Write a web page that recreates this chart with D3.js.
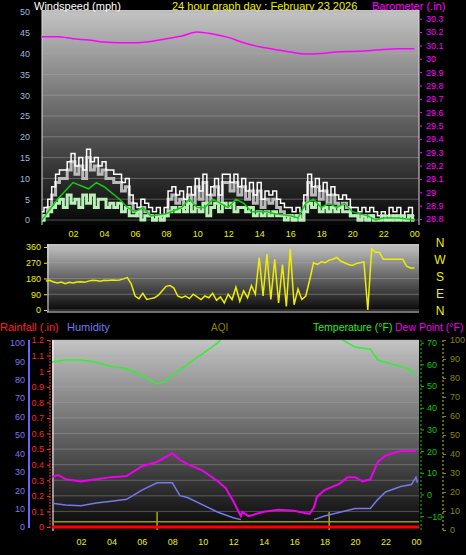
<!DOCTYPE html><html><head><meta charset="utf-8">
<script src="https://cdn.jsdelivr.net/npm/d3@7"></script>
<style>body{margin:0;background:#000}svg{display:block;font-family:"Liberation Sans",Arial,sans-serif}</style></head><body>
<script>
const hourTicks=[2,4,6,8,10,12,14,16,18,20,22,24];
const hourLabels=["02","04","06","08","10","12","14","16","18","20","22","00"];
const baroHours=[0,1,2,3,4,5,6,7,8,9,10,11,12,13,14,15,16,17,18,19,20,21,22,23,24];
const baro=[30.165,30.165,30.15,30.14,30.125,30.12,30.12,30.13,30.15,30.17,30.2,30.185,30.16,30.12,30.09,30.07,30.05,30.035,30.04,30.05,30.055,30.06,30.07,30.075,30.075];
const gust=[2,3,5,8,11,12,12,14,16,13,15,12,17,14,15,13,14,12,12,11,11,9,10,6,4,3,5,4,3,2,3,1,3,7,8,6,7,5,8,6,10,7,11,6,8,10,6,11,11,9,11,8,10,7,9,6,9,5,7,6,7,5,4,3,3,2,3,2,6,11,8,10,7,9,6,8,6,5,6,5,3,3,2,3,2,3,2,1,2,1,3,2,3,1,2,3,1];
const speed=[0,1,2,3,4,5,3,6,4,5,3,6,4,6,3,5,5,3,4,3,4,2,3,1,1,2,0,1,1,0,1,0,1,2,3,2,3,2,4,2,3,2,4,1,3,4,2,4,3,4,2,3,3,2,3,1,2,1,2,1,2,1,1,0,1,0,1,0,2,4,3,4,2,3,2,3,2,3,2,2,1,1,0,1,0,1,0,0,1,0,0,1,0,1,0,1,0];
const avgHours=[0,1,2,3,3.5,4,5,5.5,6,6.5,7,8,9,9.5,10,10.5,11,12,12.5,13,13.5,14,14.5,15,16,16.5,17,17.5,18,18.5,19,19.5,20,21,21.5,22,23,24];
const avgWind=[0,5,9,7.5,9,8,5,3,2,3,1,1.5,3,5,3,3,5,3,5,4,2,2,2,1.5,1,0.5,4,5,3,4,3,4,2,1,0,0.5,0.5,0];
const windDir=[140,165,170,160,155,160,150,158,155,160,162,158,165,170,168,165,170,168,172,170,172,178,185,150,80,65,95,60,65,70,85,110,135,140,125,80,70,80,65,90,75,60,80,70,95,55,75,40,90,60,130,50,110,70,140,90,300,80,320,60,290,40,260,20,350,30,120,60,80,170,270,260,275,270,285,290,300,280,270,260,255,265,270,275,0,350,330,330,290,290,290,290,290,290,250,240,240];
const tempHours=[0,1,2,3,4,5,6,7,7.5,8,9,10,11,11.5,19,20,21,21.5,22,23,23.5,24];
const temp=[61,62,62,61,59,58,55,51,52,55,60,65,70,74,72,68,67,62,61,59,58,55];
const dewHours=[0,0.5,1,2,3,4,5,6,7,8,8.5,9,10,11,11.5,12,12.5,12.6,13,14,15,16,17,17.3,17.5,18,19,19.5,20,20.5,21,21.5,22,23,24];
const dew=[8,9,7,6,7,8,8.5,13,15,19,16,14,11,6,3,-3,-10,-8,-10,-8,-7,-7.5,-9,-6,-1,2,5,8,8,6,7,15,18,20,20];
const humHours=[0,1,2,3,4,5,6,7,8,8.5,9,10,11,12,12.5];
const hum=[13,12,11.5,13,14,15,20,24,24,17,16,12,8,5,4];
const humHours2=[17.3,18,19,20,21,21.5,22,23,23.7,24,24.1];
const hum2=[4,6,8,10,10,15,19,22,23,27,24];
const aqiSpikes=[7,18.3];

const W=466,H=555;
const svg=d3.select("body").append("svg").attr("width",W).attr("height",H).style("background","#000");
const defs=svg.append("defs");
const g=defs.append("linearGradient").attr("id","bg").attr("x1",0).attr("y1",0).attr("x2",0).attr("y2",1);
g.append("stop").attr("offset",0).attr("stop-color","#c4c4c4");
g.append("stop").attr("offset",0.55).attr("stop-color","#5a5a5a");
g.append("stop").attr("offset",1).attr("stop-color","#050505");
const txt=(x,y,s,c,size,anchor)=>svg.append("text").attr("x",x).attr("y",y).text(s).attr("fill",c).attr("font-size",size||11).attr("text-anchor",anchor||"start");

// ---------- Panel 1
const x1=d3.scaleLinear().domain([0,24.3]).range([42,419]);
const yW=d3.scaleLinear().domain([0,50]).range([220,12]);
const yB=d3.scaleLinear().domain([28.8,30.3]).range([219,18.7]);
svg.append("rect").attr("x",42).attr("y",10).attr("width",377).attr("height",215).attr("fill","url(#bg)");
d3.range(0,51,5).forEach(v=>svg.append("line").attr("x1",42).attr("x2",419).attr("y1",yW(v)).attr("y2",yW(v)).attr("stroke","#aaa").attr("stroke-opacity",0.45));
svg.append("line").attr("x1",42).attr("x2",42).attr("y1",10).attr("y2",225).attr("stroke","#ddd");
svg.append("line").attr("x1",419).attr("x2",419).attr("y1",10).attr("y2",225).attr("stroke","#ddd");
svg.append("g").attr("transform","translate(42,0)").call(d3.axisLeft(yW).tickValues(d3.range(0,51,5)).tickSize(0).tickPadding(12)).call(a=>{a.select(".domain").remove();a.selectAll("text").attr("fill","#9bd").attr("font-size",9);});
svg.append("g").attr("transform","translate(419,0)").call(d3.axisRight(yB).tickValues(d3.range(28.8,30.31,0.1)).tickFormat(d=>+d.toFixed(1)).tickSize(3).tickPadding(4)).call(a=>{a.select(".domain").remove();a.selectAll("line").attr("stroke","#f0f");a.selectAll("text").attr("fill","#f0f").attr("font-size",9);});
svg.append("g").attr("transform","translate(0,225)").call(d3.axisBottom(x1).tickValues(hourTicks).tickFormat((d,i)=>hourLabels[i]).tickSize(0).tickPadding(6)).call(a=>{a.select(".domain").remove();a.selectAll("text").attr("fill","#ee0").attr("font-size",9);});
const p1=svg.append("g");
p1.append("path").datum(gust).attr("d",d3.line().x((d,i)=>x1(i*0.25)).y(d=>yW(Math.max(0,d-2))).curve(d3.curveStep)).attr("fill","none").attr("stroke","#bbb").attr("stroke-width",3);
p1.append("path").datum(gust).attr("d",d3.line().x((d,i)=>x1(i*0.25)).y(d=>yW(d)).curve(d3.curveStep)).attr("fill","none").attr("stroke","#fff").attr("stroke-width",1.5);
p1.append("path").datum(speed).attr("d",d3.line().x((d,i)=>x1(i*0.25)).y(d=>yW(d)).curve(d3.curveStep)).attr("fill","none").attr("stroke","#b8f0b8").attr("stroke-width",3);
p1.append("path").datum(avgWind).attr("d",d3.line().x((d,i)=>x1(avgHours[i])).y(d=>yW(d))).attr("fill","none").attr("stroke","#1c1").attr("stroke-width",1.5);
p1.append("path").datum(baro).attr("d",d3.line().x((d,i)=>x1(baroHours[i])).y(d=>yB(d)).curve(d3.curveMonotoneX)).attr("fill","none").attr("stroke","#f0f").attr("stroke-width",1.5);
txt(34,10,"Windspeed (mph)","#fff",11);
txt(172,10,"24 hour graph day : February 23 2026","#ee0",11);
txt(372,10,"Barometer (.in)","#f0f",11);

// ---------- Panel 2
const yD=d3.scaleLinear().domain([0,360]).range([310,247]);
svg.append("rect").attr("x",47).attr("y",244).attr("width",372).attr("height",68).attr("fill","url(#bg)");
d3.range(0,361,90).forEach(v=>svg.append("line").attr("x1",47).attr("x2",419).attr("y1",yD(v)).attr("y2",yD(v)).attr("stroke","#aaa").attr("stroke-opacity",0.45));
svg.append("line").attr("x1",48).attr("x2",48).attr("y1",244).attr("y2",312).attr("stroke","#ddd");
svg.append("line").attr("x1",47).attr("x2",419).attr("y1",312).attr("y2",312).attr("stroke","#ddd");
svg.append("g").attr("transform","translate(47,0)").call(d3.axisLeft(yD).tickValues([0,90,180,270,360]).tickSize(3)).call(a=>{a.select(".domain").remove();a.selectAll("line").attr("stroke","#ee0");a.selectAll("text").attr("fill","#ee0").attr("font-size",9);});
const p2=svg.append("g");
p2.append("path").datum(windDir.slice(1)).attr("d",d3.line().x((d,i)=>x1((i+1)*0.25)).y(d=>yD(d))).attr("fill","none").attr("stroke","#ee0").attr("stroke-width",1.5);
["N","W","S","E","N"].forEach((s,i)=>txt(440,[249,266,283,300,317][i]-2,s,"#ee0",12,"middle"));

// ---------- Panel 3
const x3=d3.scaleLinear().domain([0,24.2]).range([50.5,419]);
const yH=d3.scaleLinear().domain([0,100]).range([527,342.7]);
const yR=d3.scaleLinear().domain([0,1.2]).range([527,340]);
const yT=d3.scaleLinear().domain([-15,70]).range([527,342.7]);
const yA=d3.scaleLinear().domain([0,100]).range([530,340]);
svg.append("rect").attr("x",52).attr("y",340).attr("width",367).attr("height",191).attr("fill","url(#bg)");
d3.range(0,1.21,0.1).forEach(v=>svg.append("line").attr("x1",52).attr("x2",419).attr("y1",yR(v)).attr("y2",yR(v)).attr("stroke","#aaa").attr("stroke-opacity",0.4));
svg.append("line").attr("x1",53).attr("x2",53).attr("y1",340).attr("y2",531).attr("stroke","#fff");
svg.append("line").attr("x1",29).attr("x2",29).attr("y1",340).attr("y2",528).attr("stroke","#66f").attr("stroke-width",2);
svg.append("line").attr("x1",50).attr("x2",50).attr("y1",340).attr("y2",528).attr("stroke","#f33").attr("stroke-dasharray","2,1");
svg.append("line").attr("x1",443).attr("x2",443).attr("y1",340).attr("y2",530).attr("stroke","#880").attr("stroke-width",1.5).attr("stroke-dasharray","2,2");
svg.append("line").attr("x1",421).attr("x2",421).attr("y1",340).attr("y2",530).attr("stroke","#0c0").attr("stroke-dasharray","2,2");
svg.append("g").attr("transform","translate(29,0)").call(d3.axisLeft(yH).tickValues(d3.range(0,101,10)).tickSize(0).tickPadding(4)).call(a=>{a.select(".domain").remove();a.selectAll("text").attr("fill","#77e").attr("font-size",9);});
svg.append("g").attr("transform","translate(50,0)").call(d3.axisLeft(yR).tickValues(d3.range(0,1.21,0.1)).tickFormat(d=>+d.toFixed(1)).tickSize(3)).call(a=>{a.select(".domain").remove();a.selectAll("line").attr("stroke","#f33");a.selectAll("text").attr("fill","#f22").attr("font-size",9);});
svg.append("g").attr("transform","translate(421,0)").call(d3.axisRight(yT).tickValues(d3.range(-10,71,10)).tickSize(3).tickPadding(3)).call(a=>{a.select(".domain").remove();a.selectAll("line").attr("stroke","#0c0");a.selectAll("text").attr("fill","#0c0").attr("font-size",9);});
svg.append("g").attr("transform","translate(443,0)").call(d3.axisRight(yA).tickValues(d3.range(0,101,10)).tickSize(3).tickPadding(4)).call(a=>{a.select(".domain").remove();a.selectAll("line").attr("stroke","#880");a.selectAll("text").attr("fill","#880").attr("font-size",9);});
svg.append("g").attr("transform","translate(0,531)").call(d3.axisBottom(x3).tickValues(hourTicks).tickFormat((d,i)=>hourLabels[i]).tickSize(0).tickPadding(8)).call(a=>{a.select(".domain").remove();a.selectAll("text").attr("fill","#ee0").attr("font-size",9);});
svg.append("clipPath").attr("id","c3").append("rect").attr("x",52).attr("y",340).attr("width",367).attr("height",191);
const p3=svg.append("g").attr("clip-path","url(#c3)");
p3.append("line").attr("x1",52).attr("x2",419).attr("y1",yA(4.4)).attr("y2",yA(4.4)).attr("stroke","#990").attr("stroke-width",1.5);
aqiSpikes.forEach(h=>p3.append("line").attr("x1",x3(h)).attr("x2",x3(h)).attr("y1",yA(9.5)).attr("y2",yA(0)).attr("stroke","#aa0").attr("stroke-width",1.5));
p3.append("path").datum(temp).attr("d",d3.line().x((d,i)=>x3(tempHours[i])).y(d=>yT(d))).attr("fill","none").attr("stroke","#3e3").attr("stroke-width",1.5);
p3.append("path").datum(dew).attr("d",d3.line().x((d,i)=>x3(dewHours[i])).y(d=>yT(d))).attr("fill","none").attr("stroke","#e0e").attr("stroke-width",2);
p3.append("path").datum(hum).attr("d",d3.line().x((d,i)=>x3(humHours[i])).y(d=>yH(d))).attr("fill","none").attr("stroke","#77e").attr("stroke-width",1.5);
p3.append("path").datum(hum2).attr("d",d3.line().x((d,i)=>x3(humHours2[i])).y(d=>yH(d))).attr("fill","none").attr("stroke","#77e").attr("stroke-width",1.5);
p3.append("line").attr("x1",52).attr("x2",419).attr("y1",yR(0)).attr("y2",yR(0)).attr("stroke","#f00").attr("stroke-width",3);
txt(0,331,"Rainfall (.in)","#f22",11);
txt(67,331,"Humidity","#77e",11);
txt(211,331,"AQI","#880",10);
txt(313,331,"Temperature (°F)","#2e2",10.5);
txt(395,331,"Dew Point (°F)","#e0e",10.5);
</script></body></html>
